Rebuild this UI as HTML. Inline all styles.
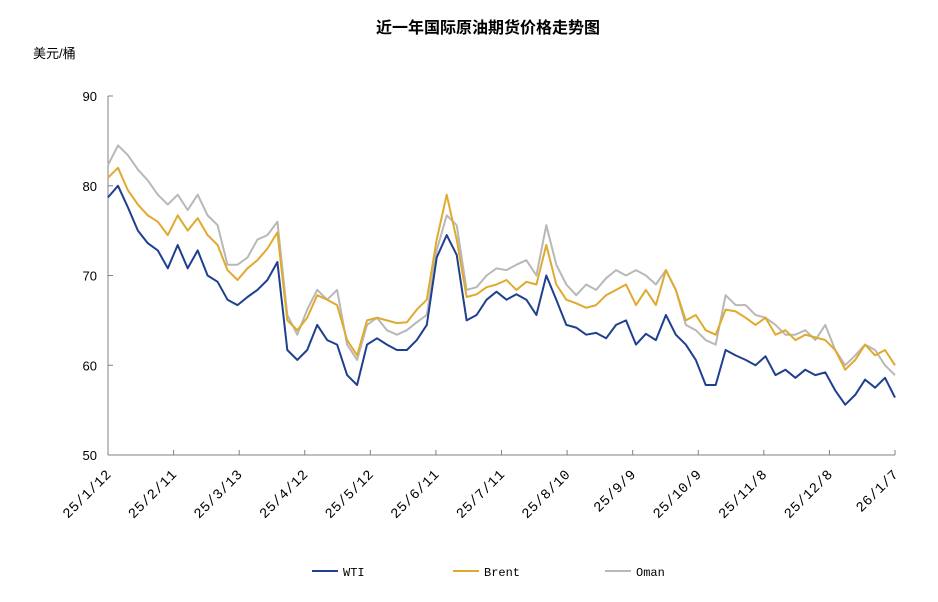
<!DOCTYPE html>
<html><head><meta charset="utf-8">
<style>
body{margin:0;background:#fff;}
svg{display:block;font-family:"Liberation Sans","Noto Sans CJK SC",sans-serif;}
</style></head>
<body>
<svg id="chart" width="938" height="602">
<text x="488" y="33" text-anchor="middle" font-size="16" font-weight="bold" fill="#000">近一年国际原油期货价格走势图</text>
<text x="33" y="58" font-size="13" fill="#000">美元/桶</text>
<g id="axes"></g>
<g id="series"></g>
<g id="legend"></g>
</svg>
<script>
const yTicks=[50,60,70,80,90];
const xLabels=["25/1/12","25/2/11","25/3/13","25/4/12","25/5/12","25/6/11","25/7/11","25/8/10","25/9/9","25/10/9","25/11/8","25/12/8","26/1/7"];
const seriesNames=["WTI","Brent","Oman"];
const wti=[78.7,80,77.6,75,73.6,72.8,70.8,73.4,70.8,72.8,70,69.3,67.3,66.7,67.6,68.4,69.5,71.5,61.7,60.6,61.7,64.5,62.8,62.3,58.9,57.8,62.3,63,62.3,61.7,61.7,62.8,64.5,72,74.5,72.3,65,65.6,67.3,68.2,67.3,67.9,67.3,65.6,70,67.3,64.5,64.2,63.4,63.6,63,64.5,65,62.3,63.5,62.8,65.6,63.4,62.3,60.6,57.8,57.8,61.7,61.1,60.6,60,61,58.9,59.5,58.6,59.5,58.9,59.2,57.2,55.6,56.7,58.4,57.5,58.6,56.4];
const brent=[80.9,82,79.5,77.9,76.7,76,74.5,76.7,75,76.4,74.5,73.4,70.6,69.5,70.8,71.7,73,74.8,65,63.9,65.3,67.8,67.3,66.7,62.8,61.1,65,65.3,65,64.7,64.8,66.2,67.3,74,79,74,67.6,67.9,68.7,69,69.5,68.4,69.3,69,73.4,69,67.3,66.9,66.4,66.7,67.8,68.4,69,66.7,68.4,66.7,70.6,68.4,65,65.6,63.9,63.4,66.2,66,65.3,64.5,65.3,63.4,63.9,62.8,63.4,63.1,62.8,61.7,59.5,60.6,62.3,61.1,61.7,60];
const oman=[82.3,84.5,83.4,81.8,80.6,79,77.9,79,77.3,79,76.7,75.6,71.2,71.2,72,74,74.5,76,65.6,63.4,66.2,68.4,67.3,68.4,62.3,60.6,64.5,65.3,63.9,63.4,63.9,64.8,65.6,72.8,76.7,75.6,68.4,68.7,70,70.8,70.6,71.2,71.7,70,75.6,71.2,69,67.8,69,68.4,69.7,70.6,70,70.6,70,69,70.6,68.4,64.5,63.9,62.8,62.3,67.8,66.7,66.7,65.6,65.3,64.5,63.4,63.4,63.9,62.8,64.5,61.7,60,61.1,62.3,61.7,60,58.9];
const colors=["#1f3f8f","#e0aa2e","#b8b8b8"];
const X0=108,X1=895,Y0=455,Y1=96;
function yScale(v){return Y0-(v-50)/40*(Y0-Y1);}
function xScale(i,n){return X0+i*(X1-X0)/(n-1);}
const NS="http://www.w3.org/2000/svg";
function mk(t,a){const e=document.createElementNS(NS,t);for(const k in a)e.setAttribute(k,a[k]);return e;}
const axes=document.getElementById('axes');
let yl=mk('line',{x1:X0,y1:Y1,x2:X0,y2:Y0,stroke:'#808080','stroke-width':1});


axes.appendChild(yl);
let xl=mk('line',{x1:X0,y1:Y0,x2:X1,y2:Y0,stroke:'#808080','stroke-width':1});


axes.appendChild(xl);
yTicks.forEach(v=>{
  const y=yScale(v);
  const tk=mk('line',{x1:X0,y1:y,x2:X0+5,y2:y,stroke:'#808080'});
  
  
  axes.appendChild(tk);
  const t=mk('text',{x:97,y:y+5,'text-anchor':'end','font-size':13,fill:'#000'});
  t.textContent=v;
  
  
  axes.appendChild(t);
});
xLabels.forEach((s,i)=>{
  const x=xScale(i,xLabels.length);
  const tk=mk('line',{x1:x,y1:Y0,x2:x,y2:Y0-5,stroke:'#808080'});
  
  
  axes.appendChild(tk);
  const ax=x+4, ay=Y0+20;
  const t=mk('text',{x:ax,y:ay,'text-anchor':'end','font-size':14,'letter-spacing':'0.5',fill:'#000','font-family':'Liberation Mono, monospace',transform:`rotate(-45 ${ax} ${ay})`});
  t.textContent=s;
  
  
  axes.appendChild(t);
});
const sg=document.getElementById('series');
[wti,brent,oman].reverse().forEach((arr,ri)=>{
  const k=2-ri;
  const pts=arr.map((v,i)=>xScale(i,arr.length).toFixed(1)+','+yScale(v).toFixed(1)).join(' ');
  const p=mk('polyline',{points:pts,fill:'none',stroke:colors[k],'stroke-width':2,'stroke-linejoin':'round'});
  
  
  sg.appendChild(p);
});
const lg=document.getElementById('legend');
const lx=[312,453,605];
seriesNames.forEach((n,k)=>{
  const g=mk('g',{});
  
  
  g.appendChild(mk('line',{x1:lx[k],y1:571,x2:lx[k]+26,y2:571,stroke:colors[k],'stroke-width':2}));
  const t=mk('text',{x:lx[k]+31,y:576,'font-size':12,fill:'#000','font-family':'Liberation Mono, monospace'});
  t.textContent=n;
  g.appendChild(t);
  lg.appendChild(g);
});
</script>
</body></html>
